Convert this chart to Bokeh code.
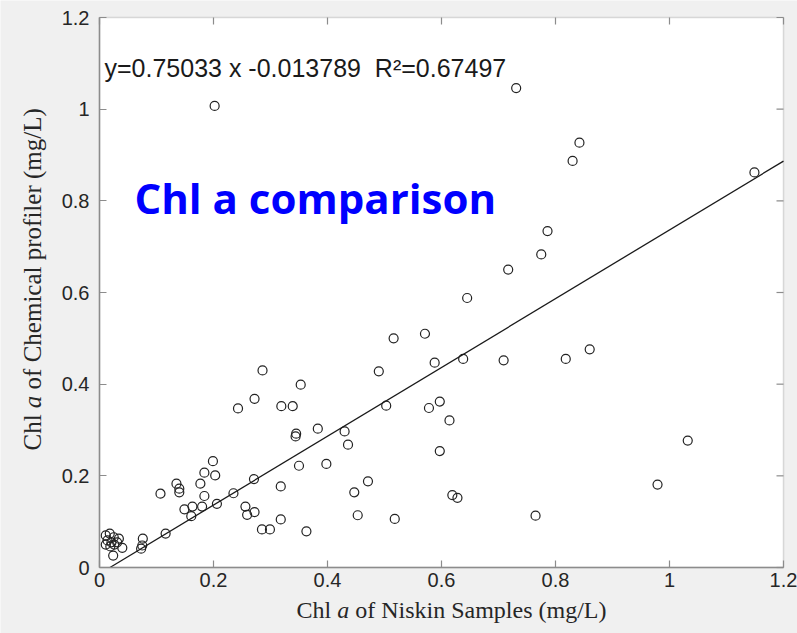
import numpy as np
from bokeh.plotting import figure
from bokeh.models import Range1d, FixedTicker, Label, BoxAnnotation
from bokeh.embed import file_html
from bokeh.resources import INLINE

# ---- data ----
niskin = [0.107, 0.135, 0.140, 0.140, 0.199, 0.184, 0.203, 0.177, 0.184, 0.149,
          0.163, 0.161, 0.180, 0.206, 0.235, 0.271, 0.256, 0.259, 0.272, 0.285,
          0.299, 0.318, 0.318, 0.116, 0.076, 0.075, 0.073, 0.040, 0.024,
          0.011, 0.018, 0.025, 0.034, 0.014, 0.021, 0.026, 0.011, 0.019, 0.031,
          0.286, 0.353, 0.272, 0.243, 0.319, 0.339, 0.490, 0.516, 0.588, 0.503,
          0.578, 0.597, 0.383, 0.345, 0.344, 0.430, 0.436, 0.350, 0.398, 0.471,
          0.447, 0.453, 0.518, 0.363, 0.597, 0.645, 0.571, 0.638, 0.709, 0.818,
          0.860, 0.614, 0.619, 0.628, 0.765, 1.149, 1.032, 0.979, 0.731, 0.842,
          0.830, 0.786, 0.775, 0.717, 0.202]
profiler = [0.161, 0.183, 0.172, 0.164, 0.232, 0.207, 0.201, 0.183, 0.156, 0.127,
            0.133, 0.112, 0.133, 0.139, 0.162, 0.193, 0.133, 0.115, 0.121, 0.083,
            0.083, 0.177, 0.105, 0.074, 0.063, 0.048, 0.041, 0.043, 0.026,
            0.070, 0.074, 0.066, 0.063, 0.059, 0.055, 0.050, 0.050, 0.046, 0.055,
            0.430, 0.399, 0.368, 0.347, 0.352, 0.352, 0.428, 0.500, 0.447, 0.353,
            0.348, 0.362, 0.303, 0.292, 0.286, 0.297, 0.268, 0.222, 0.226, 0.188,
            0.164, 0.114, 0.106, 0.079, 0.254, 0.588, 0.510, 0.455, 0.452, 0.455,
            0.476, 0.321, 0.158, 0.152, 0.113, 0.862, 0.277, 0.181, 1.046, 0.927,
            0.887, 0.734, 0.683, 0.650, 1.007]

slope = 0.75033
intercept = -0.013789
r_squared = 0.67497

tick_values = [0, 0.2, 0.4, 0.6, 0.8, 1.0, 1.2]
tick_labels = ["0", "0.2", "0.4", "0.6", "0.8", "1", "1.2"]

title_text = "Chl a comparison"
xlabel_parts = ["Chl", "a", "of Niskin Samples (mg/L)"]
ylabel_parts = ["Chl", "a", "of Chemical profiler (mg/L)"]

# ---- geometry (page pixels) ----
W, H = 797, 633
FRAME_LEFT, FRAME_TOP, FRAME_RIGHT, FRAME_BOTTOM = 99, 17, 783, 567
XMAX, YMAX = 1.2, 1.2
FW, FH = FRAME_RIGHT - FRAME_LEFT, FRAME_BOTTOM - FRAME_TOP

def dx(px):
    return (px - FRAME_LEFT) / FW * XMAX

def dy(py):
    return (FRAME_BOTTOM - py) / FH * YMAX

# the bokeh frame covers the whole canvas; the axes box is drawn inside it
p = figure(width=W, height=H, output_backend="svg", toolbar_location=None,
           x_range=Range1d(dx(0), dx(W)), y_range=Range1d(dy(H), dy(0)),
           min_border_left=0, min_border_right=0, min_border_top=0, min_border_bottom=0)
p.background_fill_color = "#f0f0f0"
p.border_fill_color = "#f0f0f0"
p.outline_line_color = None
p.xgrid.visible = False
p.ygrid.visible = False

frame_col = "#8c8c8c"
label_col = "#262626"

p.add_layout(BoxAnnotation(left=0, right=XMAX, bottom=0, top=YMAX,
                           fill_color="white", fill_alpha=1.0,
                           line_color=frame_col, line_width=1.5, level="underlay"))

overrides = {v: s for v, s in zip(tick_values, tick_labels)}
for ax, bnd in ((p.xaxis[0], (0, XMAX)), (p.yaxis[0], (0, YMAX))):
    ax.fixed_location = 0
    ax.bounds = bnd
    ax.ticker = FixedTicker(ticks=tick_values)
    ax.major_label_overrides = overrides
    ax.minor_tick_line_color = None
    ax.major_tick_in = 7
    ax.major_tick_out = 0
    ax.major_tick_line_color = frame_col
    ax.major_tick_line_width = 1.2
    ax.axis_line_color = frame_col
    ax.axis_line_width = 1.5
    ax.major_label_text_font = "Liberation Sans"
    ax.major_label_text_font_size = "20px"
    ax.major_label_text_color = label_col
p.xaxis[0].major_label_standoff = 5
p.yaxis[0].major_label_standoff = 10

# inward tick marks on the top and right edges of the box
n = len(tick_values)
p.ray(x=tick_values, y=[YMAX] * n, length=7, length_units="screen", angle=-np.pi / 2,
      line_color=frame_col, line_width=1.2)
p.ray(x=[XMAX] * n, y=tick_values, length=7, length_units="screen", angle=np.pi,
      line_color=frame_col, line_width=1.2)

# ---- data glyphs ----
p.scatter(niskin, profiler, marker="circle", size=9, fill_color=None,
          line_color="#222222", line_width=1.2)
fit_x = np.array([max(0.0, -intercept / slope), XMAX])
p.line(fit_x, slope * fit_x + intercept, line_color="#1a1a1a", line_width=1.3)

# ---- texts ----
eq_text = f"y={slope} x {intercept} \u00a0R\u00b2={r_squared}"
p.add_layout(Label(x=dx(104), y=dy(67), text=eq_text, text_font="Liberation Sans",
                   text_font_size="25px", text_color="#1a1a1a",
                   text_baseline="alphabetic", text_align="left"))

p.add_layout(Label(x=dx(134), y=dy(197), text=title_text, text_font="Open Sans",
                   text_font_style="bold", text_font_size="42px", text_color="#0000ff",
                   text_baseline="alphabetic", text_align="left"))

styles = ["normal", "italic", "normal"]
# advance (in em) of "Chl " and of "a " in Times-metric serif
em_offsets = [0, 1.445 + 0.25, 1.445 + 0.25 + 0.5 + 0.25]

XF = 24
x_start, x_base = 296, 609
for part, st, off in zip(xlabel_parts, styles, em_offsets):
    p.add_layout(Label(x=dx(x_start + off * XF), y=dy(x_base), text=part,
                       text_font="Liberation Serif", text_font_style=st,
                       text_font_size=f"{XF}px", text_color=label_col,
                       text_baseline="alphabetic", text_align="left"))

YF = 25
y_start, y_base = 450, 32
for part, st, off in zip(ylabel_parts, styles, em_offsets):
    p.add_layout(Label(x=dx(y_base), y=dy(y_start - off * YF), text=part, angle=np.pi / 2,
                       text_font="Liberation Serif", text_font_style=st,
                       text_font_size=f"{YF}px", text_color=label_col,
                       text_baseline="alphabetic", text_align="left"))

open("out.html", "w").write(file_html(p, INLINE))
